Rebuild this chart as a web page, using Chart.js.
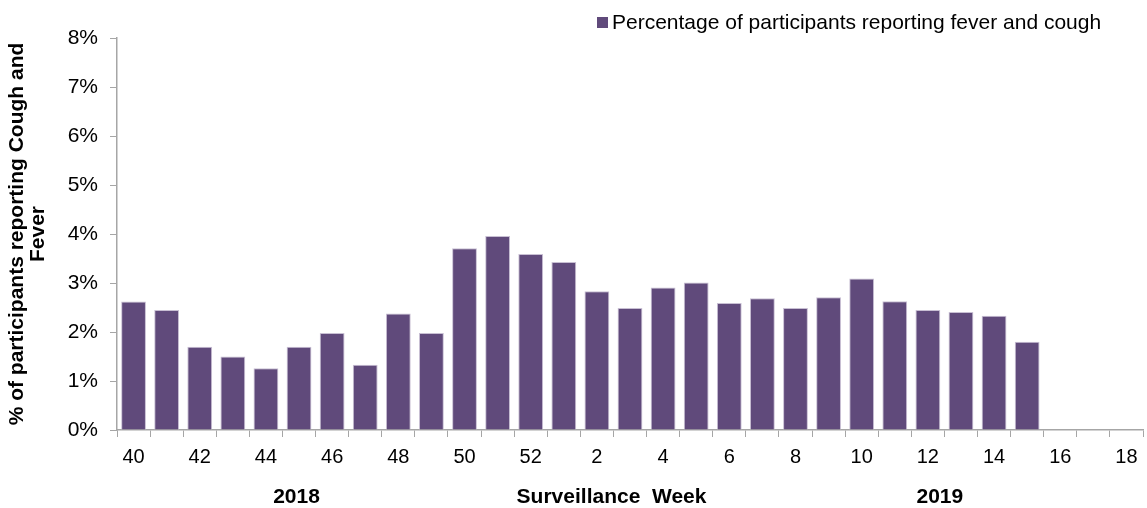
<!DOCTYPE html>
<html>
<head>
<meta charset="utf-8">
<script src="https://cdn.jsdelivr.net/npm/chart.js@4.4.1/dist/chart.umd.min.js"></script>
<style>
  html, body { margin: 0; padding: 0; background: #fff; }
  #wrap { width: 1147px; height: 508px; }
</style>
</head>
<body>
<div id="wrap"><canvas id="chart"></canvas></div>
<script>
// Surveillance weeks, 2018 week 40 through 2019 week 18
const weeks = [40, 41, 42, 43, 44, 45, 46, 47, 48, 49, 50, 51, 52,
  1, 2, 3, 4, 5, 6, 7, 8, 9, 10, 11, 12, 13, 14, 15, 16, 17, 18];

// % of participants reporting fever and cough (no data yet for 16-18)
const feverCough = [2.62, 2.45, 1.70, 1.50, 1.26, 1.70, 1.98, 1.33, 2.38, 1.98, 3.71, 3.96, 3.59,
  3.43, 2.83, 2.49, 2.91, 3.01, 2.59, 2.69, 2.49, 2.71, 3.09, 2.63, 2.45, 2.41, 2.33, 1.80,
  null, null, null];

const yTicks = [0, 1, 2, 3, 4, 5, 6, 7, 8];
const seriesLabel = 'Percentage of participants reporting fever and cough';
const yTitle = ['% of participants reporting Cough and', 'Fever'];
const yearLabels = [{ text: '2018', at: 0.175 }, { text: 'Surveillance  Week', at: 0.482 }, { text: '2019', at: 0.802 }];

const purple = '#604a7b';
const axisGrey = '#a6a6a6';
const font = "'Liberation Sans', Arial, sans-serif";

// legend drawn by hand so it sits where the reference has it
const legendPlugin = {
  id: 'topLegend',
  afterDraw(chart) {
    const { ctx } = chart;
    const ds = chart.data.datasets[0];
    ctx.save();
    ctx.font = '21px ' + font;
    ctx.textBaseline = 'middle';
    ctx.fillStyle = ds.backgroundColor;
    ctx.fillRect(597, 17, 11, 11);
    ctx.fillStyle = '#000';
    ctx.fillText(ds.label, 612, 23);
    ctx.restore();
  }
};

// year labels and axis caption under the week ticks
const bottomLabels = {
  id: 'bottomLabels',
  afterDraw(chart) {
    const { ctx, chartArea } = chart;
    ctx.save();
    ctx.font = 'bold 21px ' + font;
    ctx.fillStyle = '#000';
    ctx.textAlign = 'center';
    ctx.textBaseline = 'middle';
    yearLabels.forEach(l => {
      const x = chartArea.left + l.at * (chartArea.right - chartArea.left);
      ctx.fillText(l.text, x, 497);
    });
    ctx.restore();
  }
};

new Chart(document.getElementById('chart'), {
  type: 'bar',
  data: {
    labels: weeks,
    datasets: [{
      label: seriesLabel,
      data: feverCough,
      backgroundColor: purple,
      borderColor: '#c8bfd3',
      borderWidth: 1,
      borderSkipped: 'bottom',
      barPercentage: 0.75,
      categoryPercentage: 1.0
    }]
  },
  options: {
    responsive: true,
    maintainAspectRatio: false,
    animation: false,
    layout: { padding: { top: 38, right: 4, left: 0, bottom: 0 } },
    plugins: {
      legend: { display: false },
      tooltip: { enabled: false }
    },
    scales: {
      x: {
        offset: true,
        grid: {
          offset: true,
          drawOnChartArea: false,
          drawTicks: true,
          tickLength: 7,
          color: axisGrey
        },
        border: { color: axisGrey, width: 1.5 },
        ticks: {
          autoSkip: false,
          maxRotation: 0,
          padding: 8,
          color: '#000',
          font: { family: font, size: 20 },
          callback: (v, i) => (i % 2 === 0 ? weeks[i] : '')
        },
        afterFit: s => { s.height = 78; }
      },
      y: {
        min: 0,
        max: 8,
        afterBuildTicks: s => { s.ticks = yTicks.map(v => ({ value: v })); },
        grid: {
          drawOnChartArea: false,
          drawTicks: true,
          tickLength: 7,
          color: axisGrey
        },
        border: { color: axisGrey, width: 1.5 },
        ticks: {
          padding: 12,
          color: '#000',
          font: { family: font, size: 21 },
          callback: v => v + '%'
        },
        title: {
          display: true,
          text: yTitle,
          color: '#000',
          font: { family: font, size: 21, weight: 'bold', lineHeight: 1.0 },
          padding: { top: 7, bottom: 0 }
        },
        afterFit: s => { s.width = 117; }
      }
    }
  },
  plugins: [legendPlugin, bottomLabels]
});
</script>
</body>
</html>
